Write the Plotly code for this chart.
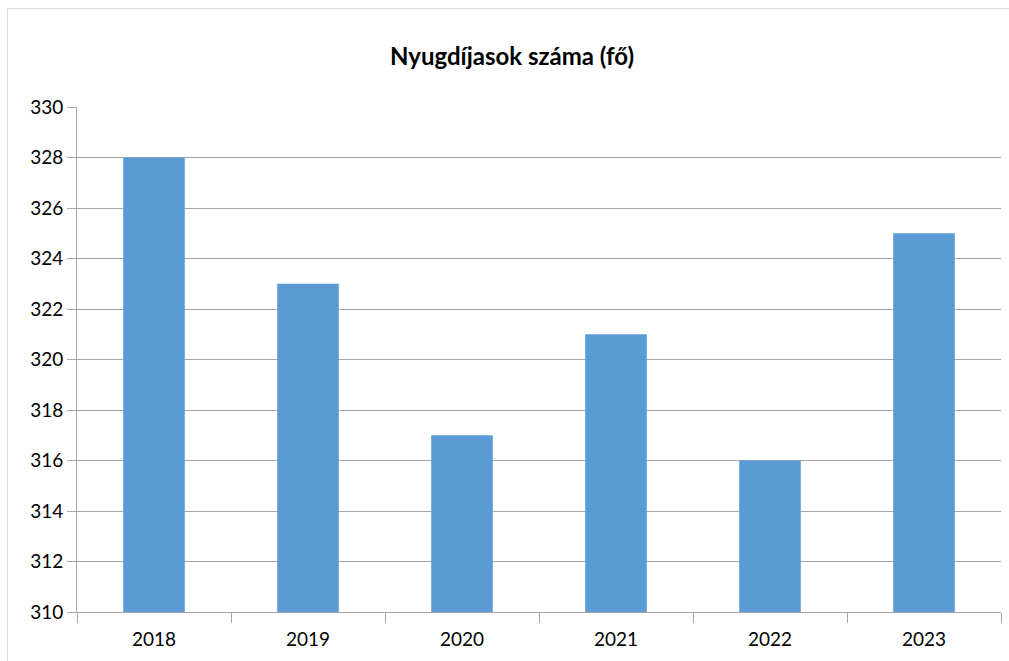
import plotly.graph_objects as go

# Number of pensioners per year
years = ["2018", "2019", "2020", "2021", "2022", "2023"]
pensioners = [328, 323, 317, 321, 316, 325]

y_ticks = list(range(310, 331, 2))

W, H = 1009, 661
L, R, T, B = 77, 8, 107, 49
pw, ph = W - L - R, H - T - B

def px_x(x):
    return (x - L) / pw

def px_y(y):
    return (H - B - y) / ph

fig = go.Figure(
    go.Bar(
        x=years,
        y=pensioners,
        base=0,
        marker=dict(color="#5B9BD5", line=dict(width=0)),
    )
)

grid = "#A6A6A6"
font_family = "Lato, 'Open Sans', sans-serif"

fig.update_layout(
    width=W,
    height=H,
    margin=dict(l=L, r=R, t=T, b=B),
    paper_bgcolor="white",
    plot_bgcolor="white",
    showlegend=False,
    bargap=0.6,
    font=dict(family=font_family, size=19, color="#000000"),
    title=dict(
        text="<b>Nyugdíjasok száma (fő)</b>",
        x=px_x(512),
        xref="paper",
        xanchor="center",
        y=1 - 57 / H,
        yanchor="middle",
        font=dict(size=24, family=font_family, color="#000000"),
    ),
    xaxis=dict(
        type="category",
        showgrid=False,
        showline=True,
        linecolor=grid,
        linewidth=1,
        ticks="outside",
        tickson="boundaries",
        ticklen=10,
        tickcolor=grid,
        tickfont=dict(size=19),
        ticklabelstandoff=10,
    ),
    yaxis=dict(
        range=[310, 330],
        tickvals=y_ticks,
        showgrid=True,
        gridcolor=grid,
        gridwidth=1,
        showline=True,
        linecolor=grid,
        linewidth=1,
        ticks="outside",
        ticklen=9,
        tickcolor=grid,
        tickfont=dict(size=19),
        zeroline=False,
    ),
    shapes=[
        dict(
            type="path",
            xref="paper",
            yref="paper",
            path=f"M {px_x(7.5)} {px_y(700)} L {px_x(7.5)} {px_y(8.5)} L {px_x(1020)} {px_y(8.5)}",
            line=dict(color="#D9D9D9", width=1),
            layer="below",
        )
    ],
)

fig.write_html("out.html")
